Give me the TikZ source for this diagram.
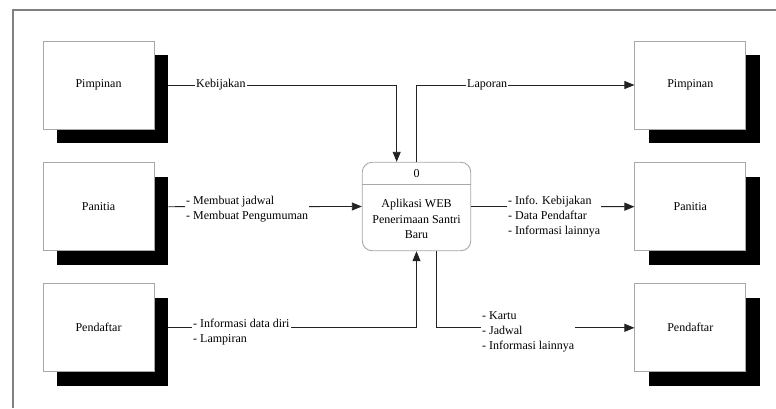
\documentclass[tikz,border=0pt]{standalone}
\usepackage{fontspec}
\setmainfont{Liberation Serif}
\usetikzlibrary{arrows.meta,shadows}
\definecolor{framecol}{HTML}{808080}
\definecolor{boxcol}{HTML}{A8A8A8}
\definecolor{linecol}{HTML}{222222}
\begin{document}
\begin{tikzpicture}[x=1pt,y=-1pt,
  font=\fontsize{12}{15}\selectfont,
  entity/.style={draw=boxcol, line width=0.8pt, fill=white, minimum width=111pt, minimum height=88pt,
    general shadow={fill=black, shadow xshift=14pt, shadow yshift=-14pt}},
  proc/.style={draw=boxcol, line width=0.9pt, fill=white, rounded corners=10pt, minimum width=108.5pt, minimum height=88.5pt},
  flow/.style={draw=linecol, line width=0.9pt},
  arr/.style={flow, -{Triangle[length=10pt,width=8pt]}},
  lbl/.style={fill=white, inner sep=1pt, align=left, anchor=west}]
\useasboundingbox (0,0) rectangle (776,408);
\fill[white] (0,0) rectangle (776,408);
\draw[framecol, line width=1.2pt] (13,408) -- (13,10) -- (776,10);

% entities
\node[entity] (lp)  at (98.5,85)   {Pimpinan};
\node[entity] (lpa) at (98.5,206.7) {Panitia};
\node[entity] (lpe) at (98.5,327.8) {Pendaftar};
\node[entity] (rp)  at (690.3,85)   {Pimpinan};
\node[entity] (rpa) at (690.3,206.7) {Panitia};
\node[entity] (rpe) at (690.3,327.8) {Pendaftar};

% process
\node[proc] (pr) at (416.5,206.5) {};
\coordinate (dl) at (362.3,184);
\coordinate (dr) at (470.7,184);
\draw[boxcol, line width=0.8pt] (dl) -- (dr);
\node (pnum) at (416.5,174) {0};
\node[align=center, font=\fontsize{12}{15.5}\selectfont] (ptxt) at (416.5,219) {Aplikasi WEB\\Penerimaan Santri\\Baru};

% flows
\draw[arr] ([xshift=14pt]lp.east) -| ([xshift=-19.8pt]pr.north);
\draw[arr] (pr.north) |- (rp.west);
\draw[arr] ([xshift=14pt]lpa.east) -- (pr.west);
\draw[arr] (pr.east) -- (rpa.west);
\draw[arr] ([xshift=14pt]lpe.east) -| (pr.south);
\draw[arr] ([xshift=19.5pt]pr.south) |- (rpe.west);

% labels
\node[lbl] (l1) at (195,85) {Kebijakan};
\node[lbl] (l2) at (466,85) {Laporan};
\node[lbl] (l3) at (185,209.3) {- Membuat jadwal\\- Membuat Pengumuman};
\node[lbl] (l4) at (507,216.7) {- Info. Kebijakan\\- Data Pendaftar\\- Informasi lainnya};
\node[lbl] (l5) at (192,332) {- Informasi data diri\\- Lampiran};
\node[lbl] (l6) at (481,332) {- Kartu\\- Jadwal\\- Informasi lainnya};
\end{tikzpicture}
\end{document}
